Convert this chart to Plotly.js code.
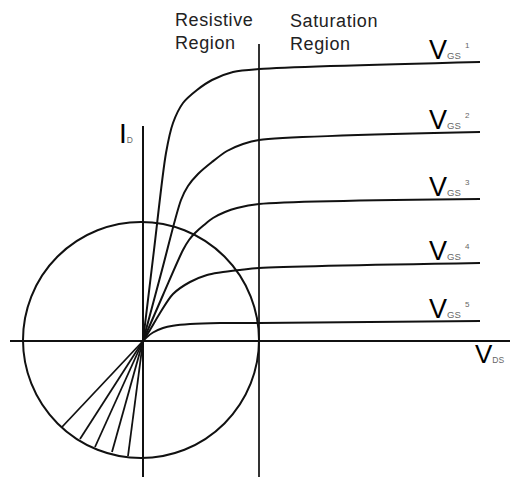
<!DOCTYPE html>
<html>
<head>
<meta charset="utf-8">
<script src="https://cdn.plot.ly/plotly-3.0.1.min.js"></script>
<style>html,body{margin:0;padding:0;background:#fff;}#chart{width:510px;height:477px;}</style>
</head>
<body>
<div id="chart"></div>
<script>
// Diagram units: origin at the I_D / V_DS axis crossing, 1 unit ~ 1 px, y up.
const vgsLabels = ['1', '2', '3', '4', '5'];

// Output characteristic curves (V_DS, I_D) for each V_GS
const vgs1X = [0, 11, 23, 30, 40, 54, 69, 90, 116, 337];
const vgs1Y = [0, 91, 188, 218, 238, 251, 261, 269, 272, 279];
const vgs2X = [0, 19, 38, 45, 55, 69, 84, 100, 116, 337];
const vgs2Y = [0, 71, 141, 155, 167, 179, 190, 197, 201, 209];
const vgs3X = [0, 20, 40, 46, 52, 61, 70, 82, 94, 116, 337];
const vgs3Y = [0, 46, 91, 101, 108, 116, 123, 129, 133, 137, 142];
const vgs4X = [0, 7, 17, 30, 47, 64, 77, 97, 116, 337];
const vgs4Y = [0, 11, 28, 47, 59, 66, 68.5, 71, 73, 78];
const vgs5X = [0, 4, 10, 20, 30, 47, 77, 116, 337];
const vgs5Y = [0, 4, 8.5, 13, 15.3, 17, 18, 18, 20];

// Extensions of the initial slopes through the origin, ending on the circle (VGS1..VGS5)
const tangentEndX = [-15, -31, -48, -63, -81];
const tangentEndY = [-115, -111, -106, -98, -86];

// Axes and region boundary
const vdsAxisX = [-133, 367];
const vdsAxisY = [0, 0];
const idAxisX = [0, 0];
const idAxisY = [215, -136];
const boundaryX = [116, 116];
const boundaryY = [297, -136];

// Load-line circle
const circleCenter = [-2, 1];
const circleRadius = 118;

const regionLabels = ['Resistive<br>Region', 'Saturation<br>Region'];

const curvesX = [vgs1X, vgs2X, vgs3X, vgs4X, vgs5X];
const curvesY = [vgs1Y, vgs2Y, vgs3Y, vgs4Y, vgs5Y];

const ink = '#111';
const traces = [];

traces.push({x: vdsAxisX, y: vdsAxisY, mode: 'lines', line: {color: ink, width: 2}, hoverinfo: 'skip'});
traces.push({x: idAxisX, y: idAxisY, mode: 'lines', line: {color: ink, width: 2}, hoverinfo: 'skip'});
traces.push({x: boundaryX, y: boundaryY, mode: 'lines', line: {color: '#333', width: 2}, hoverinfo: 'skip'});

curvesX.forEach((cx, i) => {
  traces.push({x: cx, y: curvesY[i], mode: 'lines',
    line: {color: ink, width: 2, shape: 'spline', smoothing: 0.85}, hoverinfo: 'skip'});
  traces.push({x: [0, tangentEndX[i]], y: [0, tangentEndY[i]], mode: 'lines',
    line: {color: ink, width: 1.8}, hoverinfo: 'skip'});
});

const annotations = [];
const base = {xref: 'x', yref: 'y', showarrow: false, borderpad: 0, xanchor: 'left', yanchor: 'middle'};
const arial = 'Liberation Sans, Arial, sans-serif';
const narrow = 'Liberation Sans Narrow, Arial Narrow, Liberation Sans, sans-serif';
const sub = (t, s) => '<span style="font-family:Liberation Sans, Arial, sans-serif;font-size:' + s + 'px;color:#666">' + t + '</span>';
const spaced = t => '<span style="letter-spacing:0.6px">' + t + '</span>';

vgsLabels.forEach((lab, i) => {
  const yEnd = curvesY[i][curvesY[i].length - 1];
  annotations.push(Object.assign({}, base, {x: 285, y: yEnd + 12.5, text: 'V' + sub('GS', 9.5),
    font: {family: narrow, size: 27, color: '#000'}}));
  annotations.push(Object.assign({}, base, {x: 320.5, y: yEnd + 17, text: lab,
    font: {family: arial, size: 8, color: '#666'}}));
});

// I_D label
annotations.push(Object.assign({}, base, {x: -25, y: 207.6, text: 'I' + sub('D', 8.5),
  font: {family: arial, size: 28, color: '#000'}}));
// V_DS label
annotations.push(Object.assign({}, base, {x: 331, y: -13, text: 'V' + sub('DS', 8.5),
  font: {family: narrow, size: 26, color: '#000'}}));
// Region labels
annotations.push(Object.assign({}, base, {x: 30.6, y: 310,
  text: regionLabels[0].split('<br>').map(spaced).join('<br>'), align: 'left',
  font: {family: arial, size: 18, color: '#222'}}));
annotations.push(Object.assign({}, base, {x: 146, y: 309,
  text: regionLabels[1].split('<br>').map(spaced).join('<br>'), align: 'left',
  font: {family: arial, size: 18, color: '#222'}}));

const layout = {
  width: 510, height: 477,
  margin: {l: 0, r: 0, t: 0, b: 0, pad: 0},
  paper_bgcolor: '#fff', plot_bgcolor: '#fff',
  showlegend: false,
  xaxis: {range: [-143, 367], visible: false, fixedrange: true},
  yaxis: {range: [-136, 341], visible: false, fixedrange: true},
  shapes: [{type: 'circle', xref: 'x', yref: 'y',
    x0: circleCenter[0] - circleRadius, x1: circleCenter[0] + circleRadius,
    y0: circleCenter[1] - circleRadius, y1: circleCenter[1] + circleRadius,
    line: {color: ink, width: 2}, fillcolor: 'rgba(0,0,0,0)'}],
  annotations: annotations
};

Plotly.newPlot('chart', traces, layout, {staticPlot: true, displayModeBar: false});
</script>
</body>
</html>
